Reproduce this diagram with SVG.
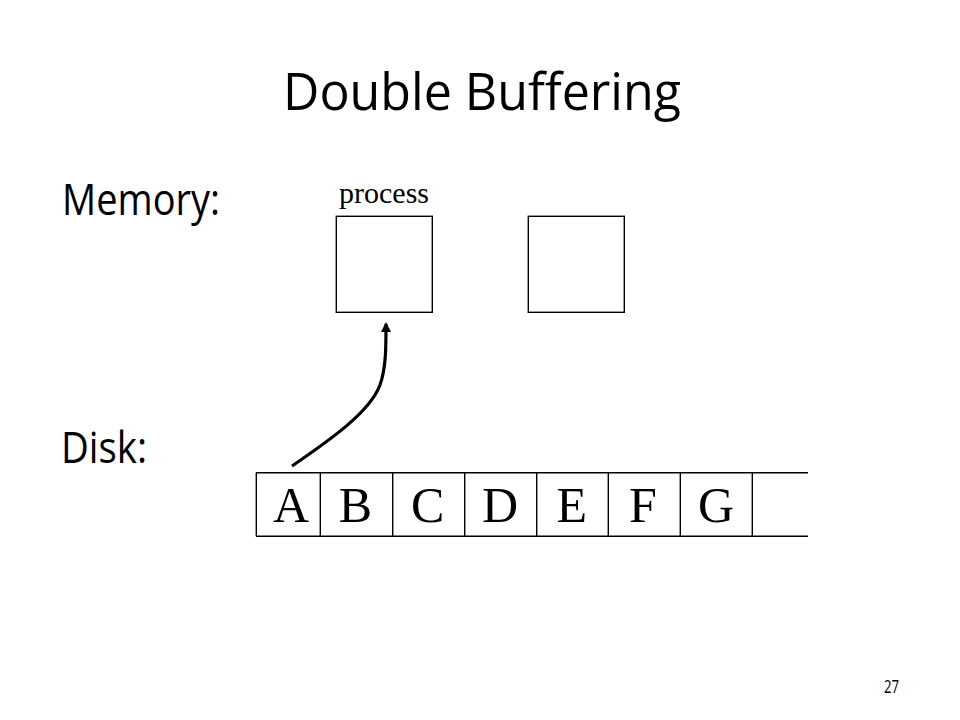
<svg xmlns="http://www.w3.org/2000/svg" width="960" height="720" viewBox="0 0 960 720">
<style>
.sans{font-family:"Open Sans","Liberation Sans",sans-serif;fill:#000}
.serif{font-family:"Liberation Serif","Times New Roman",serif;fill:#000}
.box{fill:#fff;stroke:#000;stroke-width:1.4}
.line{stroke:#000;stroke-width:1.4;fill:none}
.cell{font-size:50px;text-anchor:middle}
.conn{stroke:#000;stroke-width:3.2;fill:none}
</style>
<defs>
<marker id="arrow" viewBox="0 0 10 10" refX="8" refY="5" markerWidth="12" markerHeight="10" markerUnits="userSpaceOnUse" orient="auto">
<path d="M0,0 L10,5 L0,10 z" fill="#000"/>
</marker>
</defs>
<rect width="960" height="720" fill="#fff"/>
<g id="title"><text class="sans" x="283" y="110" font-size="51" textLength="398" lengthAdjust="spacingAndGlyphs">Double Buffering</text></g>
<g id="memory-label"><text class="sans" x="62" y="215" font-size="43" textLength="158" lengthAdjust="spacingAndGlyphs">Memory:</text></g>
<g id="disk-label"><text class="sans" x="61" y="463" font-size="43" textLength="86" lengthAdjust="spacingAndGlyphs">Disk:</text></g>
<g id="page-number"><text class="sans" x="884" y="693" font-size="18.5" textLength="15" lengthAdjust="spacingAndGlyphs">27</text></g>
<g id="buffer1">
<text class="serif" x="339" y="203" font-size="29.5" textLength="90" lengthAdjust="spacingAndGlyphs">process</text>
<rect class="box" x="336.3" y="216.3" width="96" height="96"/>
</g>
<g id="buffer2"><rect class="box" x="528.3" y="216.3" width="96" height="96"/></g>
<g id="disk">
<line class="line" x1="256" y1="472.7" x2="808" y2="472.7"/>
<line class="line" x1="256" y1="536.3" x2="808" y2="536.3"/>
<line class="line" x1="256.3" y1="472.7" x2="256.3" y2="536.3"/>
<line class="line" x1="320.3" y1="472.7" x2="320.3" y2="536.3"/>
<line class="line" x1="392.7" y1="472.7" x2="392.7" y2="536.3"/>
<line class="line" x1="464.7" y1="472.7" x2="464.7" y2="536.3"/>
<line class="line" x1="536.7" y1="472.7" x2="536.7" y2="536.3"/>
<line class="line" x1="608.3" y1="472.7" x2="608.3" y2="536.3"/>
<line class="line" x1="680.3" y1="472.7" x2="680.3" y2="536.3"/>
<line class="line" x1="752.3" y1="472.7" x2="752.3" y2="536.3"/>
<text class="serif cell" x="291" y="522">A</text>
<text class="serif cell" x="355.5" y="522">B</text>
<text class="serif cell" x="427.7" y="522">C</text>
<text class="serif cell" x="500" y="522">D</text>
<text class="serif cell" x="571.7" y="522">E</text>
<text class="serif cell" x="643" y="522">F</text>
<text class="serif cell" x="716" y="522">G</text>
</g>
<g id="connectors">
<path class="conn" d="M292,466 C330,440 370,412 380,385 C386,368 386,348 386,324" marker-end="url(#arrow)"/>
</g>
</svg>
